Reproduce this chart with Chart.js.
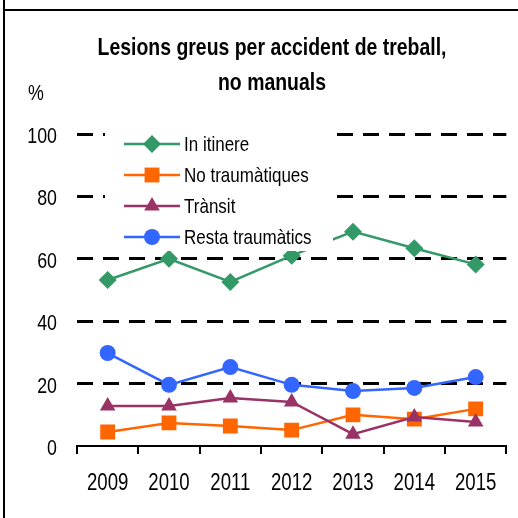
<!DOCTYPE html>
<html>
<head>
<meta charset="utf-8">
<script src="https://cdn.jsdelivr.net/npm/chart.js@4"></script>
<style>
  body { margin: 0; background: #fff; }
  canvas { display: block; }
</style>
</head>
<body>
<canvas id="myChart" width="518" height="518"></canvas>
<script>
// Chart data
const years = ['2009', '2010', '2011', '2012', '2013', '2014', '2015'];
const inItinere = [53.2, 60.0, 52.6, 61.0, 68.7, 63.4, 58.2];
const noTraumatiques = [4.5, 7.4, 6.4, 5.1, 10.0, 8.6, 11.9];
const transit = [12.8, 12.8, 15.4, 14.1, 3.8, 9.3, 7.7];
const restaTraumatics = [29.8, 19.6, 25.3, 19.6, 17.6, 18.6, 22.1];
const yTicks = [0, 20, 40, 60, 80, 100];

const FONT = "'Liberation Sans', Arial, sans-serif";
// the original uses a narrow face; squeeze the text horizontally to match
const SQUEEZE = 0.81;

const series = [
    { label: 'In itinere', data: inItinere, color: '#339966', style: 'rectRot', radius: 9 },
    { label: 'No traumàtiques', data: noTraumatiques, color: '#FF6600', style: 'rect', radius: 10.5 },
    { label: 'Trànsit', data: transit, color: '#993366', style: 'triangle', radius: 9 },
    { label: 'Resta traumàtics', data: restaTraumatics, color: '#3366FF', style: 'circle', radius: 8 }
];

// draw a marker by hand for the legend
function drawMarker(ctx, style, r, x, y, color) {
    ctx.save();
    ctx.fillStyle = color;
    ctx.beginPath();
    if (style === 'circle') {
        ctx.arc(x, y, r, 0, Math.PI * 2);
    } else if (style === 'rect') {
        const s = Math.SQRT1_2 * r;
        ctx.rect(x - s, y - s, 2 * s, 2 * s);
    } else if (style === 'rectRot') {
        ctx.moveTo(x, y - r); ctx.lineTo(x + r, y); ctx.lineTo(x, y + r); ctx.lineTo(x - r, y);
    } else if (style === 'triangle') {
        for (let i = 0; i < 3; i++) {
            const a = i * 2 * Math.PI / 3;
            const px = x + Math.sin(a) * r, py = y - Math.cos(a) * r;
            if (i === 0) ctx.moveTo(px, py); else ctx.lineTo(px, py);
        }
    }
    ctx.closePath();
    ctx.fill();
    ctx.restore();
}

// frame, title, unit label and boxed legend
const decor = {
    id: 'decor',
    afterDatasetsDraw(chart) {
        const ctx = chart.ctx;
        ctx.save();
        ctx.fillStyle = '#fff';
        ctx.fillRect(105, 126, 228, 125);
        series.forEach((s, i) => {
            const y = 144 + i * 31;
            ctx.strokeStyle = s.color;
            ctx.lineWidth = 2.5;
            ctx.beginPath();
            ctx.moveTo(124, y);
            ctx.lineTo(180, y);
            ctx.stroke();
            drawMarker(ctx, s.style, s.radius, 152, y, s.color);
            ctx.fillStyle = '#000';
            ctx.font = '21px ' + FONT;
            ctx.textBaseline = 'middle';
            ctx.textAlign = 'left';
            ctx.fillText(s.label, 184, y + 1);
        });
        ctx.restore();
    },
    afterDraw(chart) {
        const ctx = chart.ctx;
        ctx.save();
        ctx.fillStyle = '#000';
        ctx.fillRect(3, 0, 2, 518);
        ctx.fillRect(3, 9, 515, 2);
        ctx.font = 'bold 24px ' + FONT;
        ctx.textAlign = 'center';
        ctx.textBaseline = 'alphabetic';
        ctx.fillText('Lesions greus per accident de treball,', 272, 55);
        ctx.fillText('no manuals', 272, 90);
        ctx.font = '22px ' + FONT;
        ctx.textAlign = 'left';
        ctx.fillText('%', 28, 100);
        ctx.restore();
    }
};

const ctx = document.getElementById('myChart').getContext('2d');
const rawFillText = CanvasRenderingContext2D.prototype.fillText;
ctx.fillText = function (text, x, y, maxWidth) {
    const w = this.measureText(text).width * SQUEEZE;
    rawFillText.call(this, text, x, y, maxWidth === undefined ? w : Math.min(maxWidth, w));
};

const myChart = new Chart(ctx, {
    type: 'line',
    data: {
        labels: years,
        datasets: series.map((s, i) => ({
            label: s.label,
            data: s.data,
            borderColor: s.color,
            backgroundColor: s.color,
            borderWidth: 2.5,
            pointStyle: s.style,
            pointRadius: s.radius,
            pointHoverRadius: s.radius,
            pointBorderWidth: 0,
            tension: 0,
            order: 3 - i
        }))
    },
    options: {
        responsive: false,
        animation: false,
        events: [],
        layout: { padding: { top: 134, left: 0, right: 6, bottom: 0 } },
        plugins: {
            legend: { display: false },
            title: { display: false },
            tooltip: { enabled: false }
        },
        scales: {
            x: {
                offset: true,
                grid: {
                    offset: true,
                    drawOnChartArea: false,
                    drawTicks: true,
                    tickLength: 8,
                    color: '#000',
                    lineWidth: 2
                },
                border: { display: true, color: '#000', width: 2 },
                ticks: {
                    color: '#000',
                    font: { family: FONT, size: 23 },
                    padding: 16,
                    maxRotation: 0
                },
                afterFit(scale) { scale.height = 72; }
            },
            y: {
                min: 0,
                max: 100,
                afterBuildTicks(scale) { scale.ticks = yTicks.map(v => ({ value: v })); },
                grid: {
                    drawTicks: false,
                    color: ctx => ctx.tick && ctx.tick.value === 0 ? 'rgba(0,0,0,0)' : '#000',
                    lineWidth: 3
                },
                border: { display: false, dash: [16, 10] },
                ticks: {
                    color: '#000',
                    font: { family: FONT, size: 22 },
                    padding: 20,
                    labelOffset: 3
                },
                afterFit(scale) { scale.width = 77; }
            }
        }
    },
    plugins: [decor]
});
</script>
</body>
</html>
